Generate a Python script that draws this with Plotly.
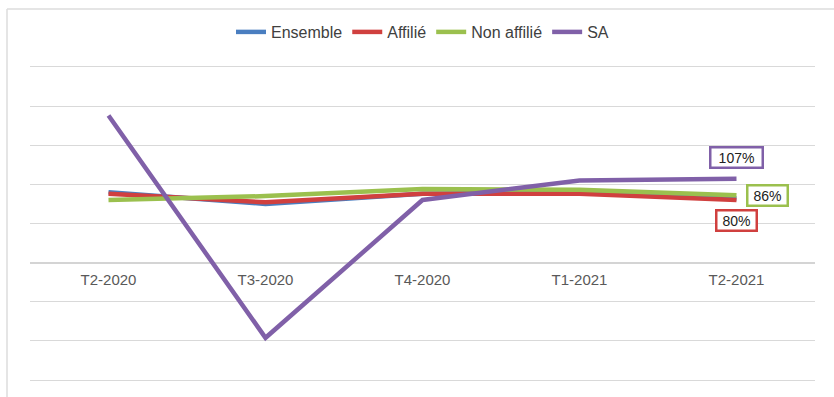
import plotly.graph_objects as go

categories = ["T2-2020", "T3-2020", "T4-2020", "T1-2021", "T2-2021"]
ensemble = [90, 75, 88, 90, 82]
affilie = [88, 77, 88, 88, 80]
non_affilie = [80, 85, 94, 93, 86]
sa = [188, -96, 80, 105, 107]

series_names = ["Ensemble", "Affilié", "Non affilié", "SA"]
series_values = [ensemble, affilie, non_affilie, sa]
colors = ["#4A7EC0", "#D0403F", "#9BC04E", "#8060A8"]

y_min, y_max = -155, 255
W, H = 834, 397
M_L, M_R, M_T, M_B = 30, 19, 63, 13
plot_w = W - M_L - M_R
plot_h = H - M_T - M_B

fig = go.Figure()
for name, vals, col in zip(series_names, series_values, colors):
    fig.add_trace(go.Scatter(
        x=categories, y=vals, name=name, mode="lines",
        line=dict(color=col, width=4.5),
    ))

# end-of-line labels
label_specs = [
    (sa, "#8060A8", 0, 21),
    (non_affilie, "#9BC04E", 31, 0),
    (affilie, "#D0403F", 0, -20),
]
for vals, col, xs, ys in label_specs:
    txt = f"{vals[-1]}%"
    fig.add_annotation(
        x=categories[-1], y=vals[-1], text=txt, showarrow=False,
        xshift=xs, yshift=ys,
        font=dict(family="Liberation Sans, Arial, sans-serif", size=14, color="#222222"),
        bgcolor="white", bordercolor=col, borderwidth=2.5, borderpad=1,
        width=12 * len(txt), height=16,
    )

# light frame around the chart (left and top edges)
fx = (7 - M_L) / plot_w
fy = (H - M_B - 9) / plot_h
fig.add_shape(type="line", xref="paper", yref="paper",
              x0=fx, x1=fx, y0=-0.2, y1=fy,
              line=dict(color="#dddddd", width=1.5))
fig.add_shape(type="line", xref="paper", yref="paper",
              x0=fx, x1=1.2, y0=fy, y1=fy,
              line=dict(color="#dddddd", width=1.5))

fig.update_layout(
    width=W, height=H,
    margin=dict(l=M_L, r=M_R, t=M_T, b=M_B, autoexpand=False),
    paper_bgcolor="white", plot_bgcolor="white",
    showlegend=True,
    legend=dict(
        orientation="h", x=0.5, xanchor="center",
        yref="container", y=1 - 32 / H, yanchor="middle",
        font=dict(family="Liberation Sans, Arial, sans-serif", size=16, color="#404040"),
        itemwidth=30, tracegroupgap=0,
    ),
    xaxis=dict(
        type="category", range=[-0.5, len(categories) - 0.5],
        showgrid=False, showline=False, ticks="", automargin=False,
        anchor="free", position=(0 - y_min) / (y_max - y_min),
        tickfont=dict(family="Liberation Sans, Arial, sans-serif", size=15, color="#595959"),
        ticklabelstandoff=6,
    ),
    yaxis=dict(
        range=[y_min, y_max], dtick=50, tick0=0, automargin=False,
        showgrid=True, gridcolor="#d9d9d9", gridwidth=1,
        zeroline=True, zerolinecolor="#d4d4d4", zerolinewidth=1.5,
        showticklabels=False, ticks="", showline=False,
    ),
)

fig.write_html("out.html")
